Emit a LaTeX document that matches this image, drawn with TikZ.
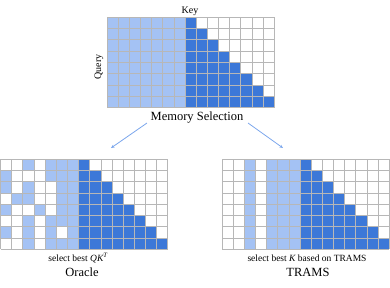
\documentclass[tikz,border=0pt]{standalone}
\usepackage{fontspec}
\setmainfont{Liberation Serif}
\usetikzlibrary{arrows.meta}
\definecolor{lightc}{HTML}{A4C2F4}
\definecolor{darkc}{HTML}{3C78D8}
\definecolor{gridc}{HTML}{B7B7B7}
\definecolor{arrc}{HTML}{7BA6EC}
\tikzset{
  lbl/.style={inner sep=0pt, font=\normalfont\upshape\fontsize{12.5}{14}\selectfont},
  small/.style={inner sep=0pt, font=\normalfont\fontsize{9.5}{11}\selectfont},
  axis/.style={inner sep=0pt, font=\normalfont\fontsize{10}{12}\selectfont},
  arr/.style={draw=arrc, line width=0.8pt, -{Stealth[length=3.5pt,width=3pt]}},
  gridline/.style={draw=gridc, line width=0.7pt}
}
\newcommand{\localpart}{%
  \foreach \r in {0,...,7}{
    \pgfmathtruncatemacro{\e}{8+\r}
    \fill[darkc] (7,\r) rectangle (\e,\r+1);
  }
}
\newcommand{\gridlines}{%
  \foreach \i in {0,...,15}{ \draw[gridline] (\i,0) -- (\i,8); }
  \foreach \j in {0,...,8}{ \draw[gridline] (0,\j) -- (15,\j); }
}
\begin{document}
\begin{tikzpicture}[x=1pt,y=-1pt]
\useasboundingbox (0,0) rectangle (390,287);
% top grid
\begin{scope}[shift={(107,17)}, x=11.15pt, y=-11.33pt]
  \fill[lightc] (0,0) rectangle (7,8);
  \localpart
  \gridlines
\end{scope}
% bottom left grid (Oracle)
\begin{scope}[shift={(0.5,159.3)}, x=11.15pt, y=-11.25pt]
  \foreach \c/\r in {2/0,4/0,5/0,6/0, 0/1,4/1,5/1,6/1, 0/2,2/2,5/2,6/2,
                     1/3,2/3,5/3,6/3, 0/4,3/4,5/4,6/4, 2/5,4/5,5/5,6/5,
                     0/6,2/6,4/6,6/6, 2/7,4/7,5/7,6/7}{
    \fill[lightc] (\c,\r) rectangle ++(1,1);
  }
  \localpart
  \gridlines
\end{scope}
% bottom right grid (TRAMS)
\begin{scope}[shift={(222,159.3)}, x=11.15pt, y=-11.25pt]
  \foreach \c in {2,4,5,6}{ \fill[lightc] (\c,0) rectangle (\c+1,8); }
  \localpart
  \gridlines
\end{scope}
% labels
\node[axis] (key) at (190,11) {Key};
\node[axis, rotate=90] (query) at (99,67) {Query};
\node[lbl] (mem) at (197,117.5) {Memory Selection};
\node[small] (selq) at (78,258) {select best {\itshape QK}\textsuperscript{\itshape T}};
\node[lbl] (oracle) at (82,272) {Oracle};
\node[small] (selk) at (307,258) {select best {\itshape K} based on TRAMS};
\node[lbl] (trams) at (308,272) {TRAMS};
% arrows
\coordinate (la) at (147,123);
\coordinate (lb) at (111,148);
\coordinate (ra) at (248,123);
\coordinate (rb) at (283,148);
\draw[arr] (la) -- (lb);
\draw[arr] (ra) -- (rb);
\end{tikzpicture}
\end{document}
